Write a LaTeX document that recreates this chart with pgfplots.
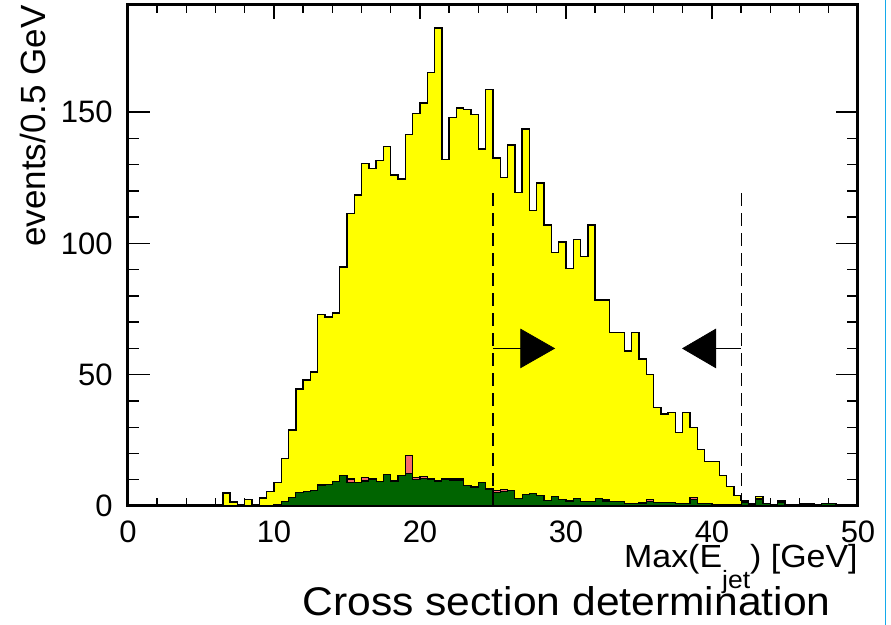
\documentclass[border=0pt]{standalone}
\usepackage{fontspec}
\setmainfont{Liberation Sans}
\usepackage{pgfplots}
\usepackage{pgfplotstable}
\pgfplotsset{compat=1.18}
\definecolor{hyellow}{RGB}{255,255,0}
\definecolor{hgreen}{RGB}{0,100,0}
\definecolor{hred}{RGB}{245,105,105}
\definecolor{slideblue}{RGB}{20,170,235}

\pgfplotstableread{
x yel gr grn
0 0 0 0
0.5 0 0 0
1 0 0 0
1.5 0 0 0
2 0 0 0
2.5 0 0 0
3 0 0 0
3.5 0 0 0
4 0 0 0
4.5 0 0 0
5 0 0 0
5.5 0 0 0
6 0 0 0
6.5 5 0 0
7 1.5 0 0
7.5 0 0 0
8 2.5 0 0
8.5 0 0 0
9 3 0 0
9.5 5.5 0 0
10 9 0.5 0.5
10.5 18 1.8 1.8
11 29 3.2 3.2
11.5 44.5 5.2 5.2
12 48 5.5 5.5
12.5 51 6 6
13 73 8 8
13.5 72 8.2 8.2
14 73.5 9.3 9.3
14.5 91 11.5 11.5
15 111.5 10.3 9
15.5 118.5 9 9
16 130.5 10.7 9.5
16.5 128.5 10.3 10.3
17 131.5 9.3 9.3
17.5 137 12 12
18 126 9.5 9.5
18.5 124.5 11.5 11.5
19 141.5 19.2 12.3
19.5 149.5 11 10
20 153.5 11.1 10.5
20.5 165 10.3 10.3
21 182 9.5 9.5
21.5 132 10.3 10.3
22 148 10.3 9.8
22.5 151.5 10.3 9.8
23 151 7.7 7.7
23.5 149 7.2 7.2
24 136 8.8 8.8
24.5 158.5 6.5 6.5
25 132.5 5.8 5
25.5 125 6.3 5.5
26 137.5 6 6
26.5 119.5 2.7 2.7
27 143.5 4.4 4.4
27.5 112.5 4.7 4.7
28 123 4 4
28.5 107 2 2
29 96.5 3.5 3.5
29.5 100.5 2.4 2.4
30 90.5 1.9 1.9
30.5 101.5 2.7 2.7
31 95 1.6 1.6
31.5 107 1.6 1.6
32 78.5 2.7 2.7
32.5 78.5 2.3 1.9
33 66 1.6 1.6
33.5 66 1.6 1.6
34 59 0.9 0.9
34.5 66 0.9 0.9
35 56 1.1 1.1
35.5 50 2.4 1.6
36 37.5 1.4 1.4
36.5 35 1.4 1.4
37 35.5 1.4 1.4
37.5 28 0.9 0.9
38 35.5 0.9 0.9
38.5 30 3.2 2.4
39 21.5 0.9 0.9
39.5 17 0.9 0.9
40 17 0.5 0.5
40.5 11.5 0.5 0.5
41 7.5 0.5 0.5
41.5 4 0.5 0.5
42 2 1.5 1.5
42.5 1 0.5 0.5
43 3.5 3 2.5
43.5 1 1 1
44 0.5 0.3 0.3
44.5 2 1.5 1.5
45 0 0 0
45.5 0 0 0
46 1 0.5 0.5
46.5 1 1 0.5
47 0.5 0.5 0.5
47.5 1 1 1
48 1 1 1
48.5 0 0 0
49 0.5 0.3 0.3
49.5 0.5 0.3 0.3
50 0.5 0.3 0.3
}\hist

\begin{document}
\begin{tikzpicture}
\useasboundingbox (0,0) rectangle (445.5pt,312.5pt);
\draw[slideblue, line width=0.8pt] (442.8pt,0) -- (442.8pt,312.5pt);
\begin{axis}[
  at={(64pt,59.5pt)}, anchor=south west,
  scale only axis, width=365pt, height=250.5pt,
  xmin=0, xmax=50, ymin=0, ymax=190.8,
  xtick={0,10,20,30,40,50}, ytick={0,50,100,150},
  minor x tick num=4, minor y tick num=4,
  tick align=inside,
  axis line style={line width=1.5pt},
  xtick style={line width=0.7pt, black, /pgfplots/major tick length=7pt, /pgfplots/minor tick length=4pt},
  ytick style={line width=0.7pt, black, /pgfplots/major tick length=11pt, /pgfplots/minor tick length=5.5pt},
  /pgf/number format/assume math mode=true,
  xticklabel style={font=\fontsize{15.5}{18}\selectfont, anchor=north, inner sep=0pt, yshift=-7pt},
  yticklabel style={font=\fontsize{15.5}{18}\selectfont, anchor=east, inner sep=0pt, xshift=-7.5pt},
  xlabel={\scalebox{1.06}[1]{Max(E\raisebox{-0.64em}{\fontsize{12.5}{14}\selectfont jet}) [GeV]}},
  xlabel style={at={(rel axis cs:1,0)}, anchor=base east, yshift=-31pt, inner sep=0pt, font=\fontsize{16}{18}\selectfont},
  ylabel={events/0.5 GeV},
  ylabel style={at={(rel axis cs:-0.1137,1)}, anchor=base east, inner sep=0pt, font=\fontsize{17.5}{20}\selectfont},
  every axis title shift=0pt,
  title={\scalebox{1.065}[1]{Cross section determination}},
  title style={at={(rel axis cs:0.6007,-0.2176)}, anchor=base, inner sep=0pt, font=\fontsize{20}{24}\selectfont},
]
\addplot[const plot, fill=hyellow, draw=black, line width=0.7pt] table[x=x, y=yel] {\hist} \closedcycle;
\addplot[const plot, fill=hred, draw=black, line width=0.6pt] table[x=x, y=gr] {\hist} \closedcycle;
\addplot[const plot, fill=hgreen, draw=black, line width=0.6pt] table[x=x, y=grn] {\hist} \closedcycle;
% cut lines and arrows
\addplot[black, line width=0.65pt, dash pattern=on 6.5pt off 3.5pt] coordinates {(25,0) (25,120)};
\addplot[black, line width=0.65pt, dash pattern=on 6.5pt off 3.5pt] coordinates {(42,0) (42,120)};
\addplot[black, line width=0.6pt] coordinates {(25,60) (26.9,60)};
\addplot[black, fill=black] coordinates {(26.9,67.3) (29.2,60) (26.9,52.7)} -- cycle;
\addplot[black, line width=0.6pt] coordinates {(42,60) (40.25,60)};
\addplot[black, fill=black] coordinates {(40.25,67.3) (38.0,60) (40.25,52.7)} -- cycle;
\end{axis}
\end{tikzpicture}
\end{document}
